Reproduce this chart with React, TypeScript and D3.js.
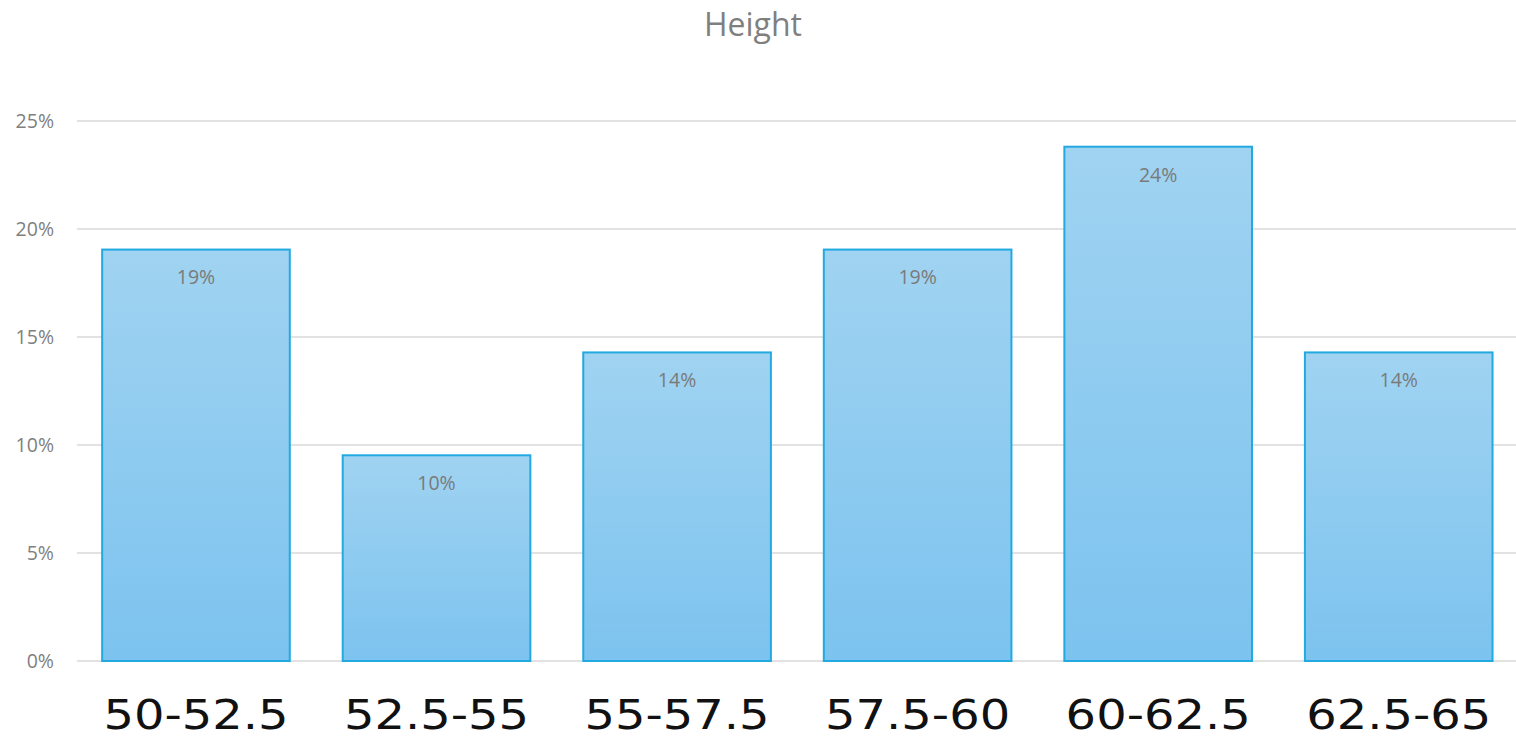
import React, { useEffect, useRef } from "react";
import * as d3 from "d3";

const categories = ["50-52.5", "52.5-55", "55-57.5", "57.5-60", "60-62.5", "62.5-65"];
const shares = [4 / 21, 2 / 21, 3 / 21, 4 / 21, 5 / 21, 3 / 21];
const yTicks = [0, 0.05, 0.1, 0.15, 0.2, 0.25];
const chartTitle = "Height";

const W = 1516;
const H = 740;

export default function App() {
  const ref = useRef<SVGSVGElement | null>(null);

  useEffect(() => {
    const svg = d3.select(ref.current);
    svg.selectAll("*").remove();

    const x = d3.scaleBand<string>().domain(categories).range([75.7, 1519]).paddingInner(0.22).paddingOuter(0.11);
    const y = d3.scaleLinear().domain([0, 0.25]).range([661, 121]);
    const pct = d3.format(".0%");

    const defs = svg.append("defs");
    const grad = defs.append("linearGradient").attr("id", "barFill").attr("x1", 0).attr("y1", 0).attr("x2", 0).attr("y2", 1);
    grad.append("stop").attr("offset", "0%").attr("stop-color", "#a0d3f1");
    grad.append("stop").attr("offset", "100%").attr("stop-color", "#7cc3ef");

    svg.append("rect").attr("width", W).attr("height", H).attr("fill", "#ffffff");

    // horizontal gridlines
    svg.append("g")
      .selectAll("line")
      .data(yTicks)
      .join("line")
      .attr("x1", 77)
      .attr("x2", 1516)
      .attr("y1", (d) => y(d))
      .attr("y2", (d) => y(d))
      .attr("stroke", "#d9d9d9")
      .attr("stroke-width", 1.5);

    // y tick labels
    svg.append("g")
      .selectAll("text")
      .data(yTicks)
      .join("text")
      .attr("x", 54)
      .attr("y", (d) => y(d))
      .attr("dy", "0.35em")
      .attr("text-anchor", "end")
      .attr("font-family", "Open Sans")
      .attr("font-size", 19.5)
      .attr("fill", "#7f7f7f")
      .text((d) => pct(d));

    // bars
    svg.append("g")
      .selectAll("rect")
      .data(shares)
      .join("rect")
      .attr("x", (_, i) => x(categories[i])!)
      .attr("y", (d) => y(d))
      .attr("width", x.bandwidth())
      .attr("height", (d) => y(0) - y(d))
      .attr("fill", "url(#barFill)")
      .attr("stroke", "#22a9e1")
      .attr("stroke-width", 2);

    // value labels inside bar tops
    svg.append("g")
      .selectAll("text")
      .data(shares)
      .join("text")
      .attr("x", (_, i) => x(categories[i])! + x.bandwidth() / 2)
      .attr("y", (d) => y(d) + 28)
      .attr("dy", "0.35em")
      .attr("text-anchor", "middle")
      .attr("font-family", "Open Sans")
      .attr("font-size", 19.5)
      .attr("fill", "#7a7a7a")
      .text((d) => pct(d));

    // category labels, in a wide sans face stretched slightly
    svg.append("g")
      .selectAll("text")
      .data(categories)
      .join("text")
      .attr("transform", (d) => `translate(${x(d)! + x.bandwidth() / 2},729) scale(1.17,1)`)
      .attr("text-anchor", "middle")
      .attr("font-family", "'DejaVu Sans', Verdana, sans-serif")
      .attr("font-size", 41)
      .attr("fill", "#111111")
      .text((d) => d);

    svg.append("text")
      .attr("x", 753)
      .attr("y", 25)
      .attr("dy", "0.35em")
      .attr("text-anchor", "middle")
      .attr("font-family", "Open Sans")
      .attr("font-size", 32)
      .attr("fill", "#7f7f7f")
      .text(chartTitle);
  }, []);

  return (
    <svg
      ref={ref}
      width={W}
      height={H}
      style={{ position: "absolute", left: 0, top: 0, display: "block" }}
    />
  );
}
